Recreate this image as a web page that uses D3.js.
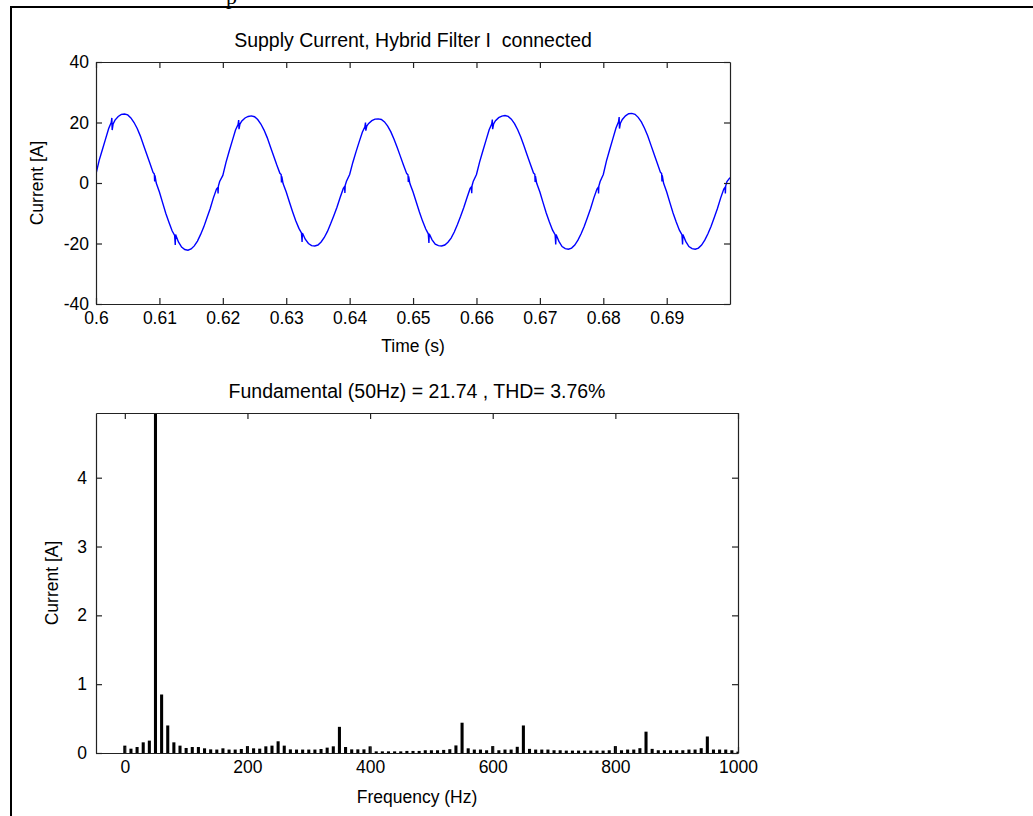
<!DOCTYPE html>
<html><head><meta charset="utf-8">
<script src="https://cdn.jsdelivr.net/npm/d3@7"></script>
<style>
html,body{margin:0;padding:0;background:#fff;}
svg{display:block;}
text{font-family:"Liberation Sans",Arial,Helvetica,sans-serif;fill:#000;white-space:pre;}
</style></head><body>
<svg id="chart" width="1033" height="816"></svg>
<script>
// ---------- DATA ----------
const topTitle = "Supply Current, Hybrid Filter I  connected";
const bottomTitle = "Fundamental (50Hz) = 21.74 , THD= 3.76%";
const cycleStarts = [0.60, 0.62, 0.64, 0.66, 0.68];
const sampleOffsetsMs = [0, 0.5, 1.0, 1.5, 2.0, 2.4, 2.5, 2.55, 2.7, 3.0, 3.5, 4.0, 4.5, 5.0, 5.5, 6.0, 6.5, 7.0, 7.5, 8.0, 8.5, 9.0, 9.2, 9.25, 9.3, 9.5, 10.0, 10.5, 11.0, 11.5, 12.0, 12.4, 12.5, 12.55, 13.0, 13.5, 14.0, 14.5, 15.0, 15.5, 16.0, 16.5, 17.0, 17.5, 18.0, 18.5, 19.0, 19.2, 19.25, 19.3, 19.5];
const cycle1 = [3, 7.5, 11, 14.5, 18, 20, 21.5, 17.5, 19.5, 20.8, 22, 22.7, 22.8, 22.5, 21.5, 20, 18, 15.5, 12.5, 9.5, 6.5, 3.5, 3, 0.5, 2.5, 0, -3, -6.5, -10, -13, -15.8, -17.3, -20.5, -17, -19.5, -21.2, -22, -22.2, -21.8, -20.8, -19.2, -17, -14.5, -11.5, -8.5, -5, -2, -1.5, -3.5, -1, 0.5];
const cycle2 = [2.5, 6.8, 10.5, 14, 17.5, 19.3, 20.8, 17.8, 19.5, 20.5, 21.5, 22, 22.2, 21.9, 21, 19.5, 17.5, 15, 12, 9, 6, 3.2, 2.8, 0.2, 2.2, -0.2, -3, -6.3, -9.5, -12.5, -15, -16.5, -19.5, -16.5, -18.6, -20, -20.7, -20.8, -20.5, -19.5, -18, -16, -13.5, -10.8, -8, -4.8, -1.8, -1.2, -3.3, -0.8, 0.6];
const cycle3 = [2.8, 6.8, 10.3, 13.6, 16.8, 18.6, 20, 17.3, 18.8, 19.7, 20.6, 21.1, 21.2, 21, 20.2, 18.8, 16.9, 14.5, 11.7, 8.8, 5.9, 3.1, 2.7, 0.3, 2.2, -0.2, -3, -6.3, -9.6, -12.6, -15.2, -16.8, -19.8, -16.8, -18.8, -20.2, -20.7, -20.8, -20.5, -19.6, -18.2, -16.2, -13.7, -11, -8.1, -4.9, -1.8, -1.3, -3.4, -0.9, 0.6];
const cycle4 = [2.8, 7, 10.6, 14.1, 17.6, 19.5, 21, 17.8, 19.5, 20.6, 21.6, 22.1, 22.3, 22, 21.1, 19.6, 17.6, 15.1, 12.2, 9.2, 6.2, 3.3, 2.9, 0.3, 2.3, -0.1, -3, -6.5, -9.9, -12.9, -15.6, -17.1, -20.3, -17, -19.3, -21, -21.7, -21.9, -21.5, -20.5, -18.9, -16.8, -14.3, -11.4, -8.4, -5, -2, -1.4, -3.5, -1, 0.5];
const cycle5 = [2.8, 7.3, 11, 14.6, 18.2, 20.2, 21.8, 18, 19.8, 21, 22.2, 22.9, 23, 22.7, 21.7, 20.2, 18.1, 15.6, 12.6, 9.6, 6.6, 3.6, 3.1, 0.5, 2.5, 0, -3, -6.5, -9.9, -12.9, -15.6, -17.1, -20.3, -17, -19.3, -21, -21.7, -21.9, -21.5, -20.5, -18.9, -16.8, -14.3, -11.4, -8.4, -5, -2, -1.4, -3.5, -1, 0.5];
const lastSample = [0.69998, 1.8];

const timeTicks = [0.6, 0.61, 0.62, 0.63, 0.64, 0.65, 0.66, 0.67, 0.68, 0.69];
const timeTickLabels = ["0.6", "0.61", "0.62", "0.63", "0.64", "0.65", "0.66", "0.67", "0.68", "0.69"];
const currentTicks = [-40, -20, 0, 20, 40];
const currentTickLabels = ["-40", "-20", "0", "20", "40"];

const freqHz = [0,10,20,30,40,50,60,70,80,90,100,110,120,130,140,150,160,170,180,190,200,210,220,230,240,250,260,270,280,290,300,310,320,330,340,350,360,370,380,390,400,410,420,430,440,450,460,470,480,490,500,510,520,530,540,550,560,570,580,590,600,610,620,630,640,650,660,670,680,690,700,710,720,730,740,750,760,770,780,790,800,810,820,830,840,850,860,870,880,890,900,910,920,930,940,950,960,970,980,990,1000];
const harmonicA = [0.107,0.063,0.087,0.155,0.18,21.74,0.85,0.40,0.155,0.107,
  0.073,0.087,0.087,0.068,0.053,0.05,0.068,0.05,0.05,0.058,
  0.10,0.068,0.063,0.097,0.107,0.17,0.107,0.053,0.05,0.05,
  0.05,0.05,0.058,0.078,0.097,0.38,0.087,0.053,0.053,0.053,
  0.097,0.024,0.024,0.024,0.024,0.024,0.03,0.03,0.03,0.04,
  0.04,0.04,0.045,0.055,0.11,0.44,0.068,0.05,0.05,0.04,
  0.10,0.04,0.05,0.05,0.09,0.40,0.06,0.05,0.05,0.05,
  0.04,0.04,0.035,0.035,0.035,0.035,0.035,0.035,0.035,0.04,
  0.10,0.04,0.05,0.05,0.07,0.31,0.06,0.04,0.04,0.04,
  0.04,0.04,0.05,0.05,0.07,0.24,0.05,0.05,0.05,0.04,
  0.02];
const freqTicks = [0, 200, 400, 600, 800, 1000];
const freqTickLabels = ["0", "200", "400", "600", "800", "1000"];
const ampTicks = [0, 1, 2, 3, 4];
const ampTickLabels = ["0", "1", "2", "3", "4"];

// ---------- LAYOUT ----------
const svg = d3.select("#chart");
const FONT = 17.5, TFONT = 19.5;

// frame of the surrounding figure
svg.append("path").attr("d", "M10,7H1033M11,7V816")
  .attr("stroke", "#000").attr("stroke-width", 2).attr("fill", "none");
svg.append("text").attr("x", 226).attr("y", 4)
  .style("font-family", "'Liberation Serif','Times New Roman',serif")
  .style("font-size", "22px").text("p");

function styleAxis(g) {
  g.select(".domain").attr("stroke", "#222").attr("stroke-width", 1.2);
  g.selectAll(".tick line").attr("stroke", "#222").attr("stroke-width", 1.2);
  g.selectAll("text").style("font-size", FONT + "px").attr("fill", "#000");
  g.attr("font-family", null);
}
const labeler = (vals, labels) => d => labels[vals.indexOf(d)];

// ---------- TOP PANEL ----------
const T = {l: 96, r: 730, t: 62, b: 304};
const x1 = d3.scaleLinear().domain([0.6, 0.69998]).range([T.l, T.r]);
const y1 = d3.scaleLinear().domain([-40, 40]).range([T.b, T.t]);

svg.append("clipPath").attr("id", "clipTop").append("rect")
  .attr("x", T.l).attr("y", T.t).attr("width", T.r - T.l).attr("height", T.b - T.t);

const cycles = [cycle1, cycle2, cycle3, cycle4, cycle5];
const wave = [];
cycles.forEach((vals, k) => {
  vals.forEach((v, i) => wave.push([cycleStarts[k] + sampleOffsetsMs[i] / 1000, v]));
});
wave.push(lastSample);

svg.append("path").datum(wave)
  .attr("clip-path", "url(#clipTop)")
  .attr("fill", "none").attr("stroke", "#0000ff").attr("stroke-width", 1.4)
  .attr("d", d3.line().x(d => x1(d[0])).y(d => y1(d[1])));

svg.append("g").attr("transform", `translate(0,${T.b})`)
  .call(d3.axisBottom(x1).tickValues(timeTicks).tickFormat(labeler(timeTicks, timeTickLabels)).tickSizeInner(-6).tickSizeOuter(0).tickPadding(8))
  .call(styleAxis);
svg.append("g").attr("transform", `translate(0,${T.t})`)
  .call(d3.axisTop(x1).tickValues(timeTicks).tickFormat("").tickSizeInner(-6).tickSizeOuter(0))
  .call(styleAxis);
svg.append("g").attr("transform", `translate(${T.l},0)`)
  .call(d3.axisLeft(y1).tickValues(currentTicks).tickFormat(labeler(currentTicks, currentTickLabels)).tickSizeInner(-6).tickSizeOuter(0).tickPadding(7))
  .call(styleAxis);
svg.append("g").attr("transform", `translate(${T.r},0)`)
  .call(d3.axisRight(y1).tickValues(currentTicks).tickFormat("").tickSizeInner(-6).tickSizeOuter(0))
  .call(styleAxis);

svg.append("text").attr("x", (T.l + T.r) / 2).attr("y", 47).attr("text-anchor", "middle")
  .attr("xml:space", "preserve")
  .style("font-size", TFONT + "px").text(topTitle);
svg.append("text").attr("x", (T.l + T.r) / 2).attr("y", 352).attr("text-anchor", "middle")
  .style("font-size", FONT + "px").text("Time (s)");
svg.append("text").attr("transform", `translate(43,${(T.t + T.b) / 2}) rotate(-90)`)
  .attr("text-anchor", "middle").style("font-size", FONT + "px").text("Current [A]");

// ---------- BOTTOM PANEL ----------
const B = {l: 96, r: 738, t: 413, b: 753};
const x2 = d3.scaleLinear().domain([-47, 1000]).range([B.l, B.r]);
const y2 = d3.scaleLinear().domain([0, 4.94]).range([B.b, B.t]);
const barHalfHz = 2.5;

svg.append("clipPath").attr("id", "clipBot").append("rect")
  .attr("x", B.l).attr("y", B.t).attr("width", B.r - B.l).attr("height", B.b - B.t);

svg.append("g").attr("clip-path", "url(#clipBot)")
  .selectAll("rect").data(freqHz.map((f, i) => ({f, a: harmonicA[i]})))
  .join("rect")
  .attr("x", d => x2(d.f - barHalfHz))
  .attr("width", d => x2(d.f + barHalfHz) - x2(d.f - barHalfHz))
  .attr("y", d => y2(d.a))
  .attr("height", d => y2(0) - y2(d.a))
  .attr("fill", "#000");

svg.append("g").attr("transform", `translate(0,${B.b})`)
  .call(d3.axisBottom(x2).tickValues(freqTicks).tickFormat(labeler(freqTicks, freqTickLabels)).tickSizeInner(-6).tickSizeOuter(0).tickPadding(8))
  .call(styleAxis);
svg.append("g").attr("transform", `translate(0,${B.t})`)
  .call(d3.axisTop(x2).tickValues(freqTicks).tickFormat("").tickSizeInner(-6).tickSizeOuter(0))
  .call(styleAxis);
svg.append("g").attr("transform", `translate(${B.l},0)`)
  .call(d3.axisLeft(y2).tickValues(ampTicks).tickFormat(labeler(ampTicks, ampTickLabels)).tickSizeInner(-6).tickSizeOuter(0).tickPadding(9))
  .call(styleAxis);
svg.append("g").attr("transform", `translate(${B.r},0)`)
  .call(d3.axisRight(y2).tickValues(ampTicks).tickFormat("").tickSizeInner(-6).tickSizeOuter(0))
  .call(styleAxis);

svg.append("text").attr("x", (B.l + B.r) / 2).attr("y", 398).attr("text-anchor", "middle")
  .style("font-size", TFONT + "px").text(bottomTitle);
svg.append("text").attr("x", (B.l + B.r) / 2).attr("y", 803).attr("text-anchor", "middle")
  .style("font-size", FONT + "px").text("Frequency (Hz)");
svg.append("text").attr("transform", `translate(58,${(B.t + B.b) / 2}) rotate(-90)`)
  .attr("text-anchor", "middle").style("font-size", FONT + "px").text("Current [A]");
</script>
</body></html>
